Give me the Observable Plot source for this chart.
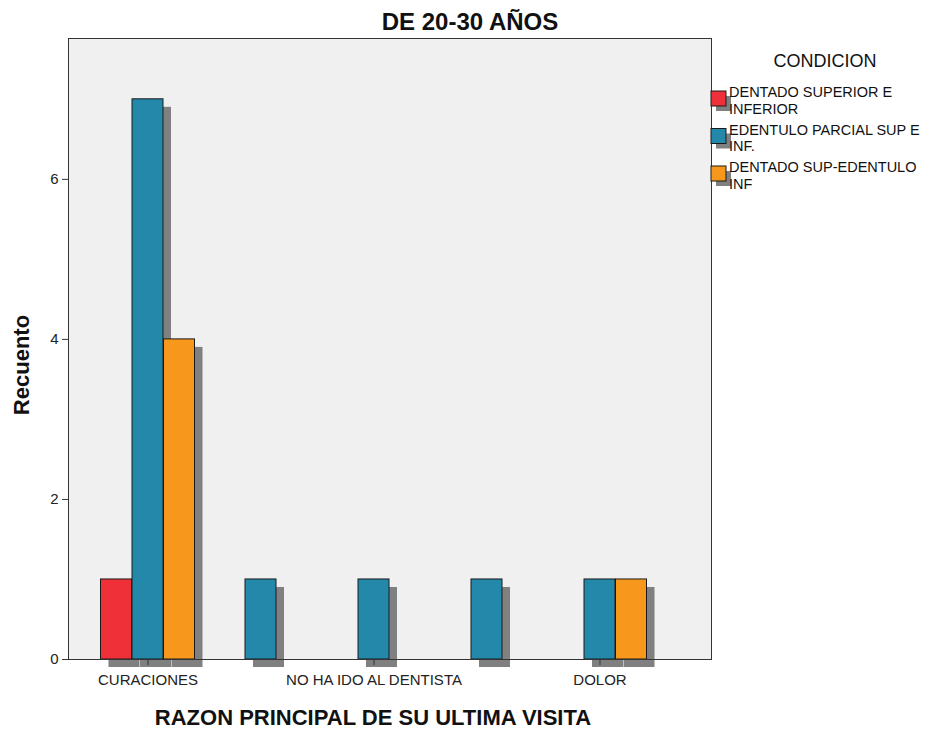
<!DOCTYPE html>
<html><head><meta charset="utf-8">
<script src="https://cdn.jsdelivr.net/npm/d3@7"></script>
<script src="https://cdn.jsdelivr.net/npm/@observablehq/plot@0.6"></script>
<style>body{margin:0;background:#fff;} #chart{width:938px;height:731px;}</style>
</head><body><div id="chart"></div>
<script>
// ---- data ----
const chartTitle = "DE 20-30 AÑOS";
const xTitle = "RAZON PRINCIPAL DE SU ULTIMA VISITA";
const yTitle = "Recuento";
const legendTitle = "CONDICION";
const categories = ["CURACIONES", "CATEGORIA 2", "NO HA IDO AL DENTISTA", "CATEGORIA 4", "DOLOR"];
const labeledCategories = ["CURACIONES", "NO HA IDO AL DENTISTA", "DOLOR"];
const seriesNames = ["DENTADO SUPERIOR E INFERIOR", "EDENTULO PARCIAL SUP E INF.", "DENTADO SUP-EDENTULO INF"];
const legendLines = [["DENTADO SUPERIOR E", "INFERIOR"], ["EDENTULO PARCIAL SUP E", "INF."], ["DENTADO SUP-EDENTULO", "INF"]];
const seriesColors = ["#ef3039", "#2388aa", "#f7981d"];
const dentadoSupInf = [1, 0, 0, 0, 0];
const edentuloParcial = [7, 1, 1, 1, 1];
const dentadoSupEdentInf = [4, 0, 0, 0, 1];
const yTicks = [0, 2, 4, 6];

const seriesValues = [dentadoSupInf, edentuloParcial, dentadoSupEdentInf];
const rows = [];
seriesValues.forEach((vals, k) => vals.forEach((v, i) => {
  if (v > 0) rows.push({k, series: seriesNames[k], cat: categories[i], value: v});
}));

// ---- layout ----
const W = 938, H = 731;
const mL = 68, mR = 227, mT = 38, mB = 72;
const xRange = [89.25, 656.75];
const band = (xRange[1] - xRange[0]) / categories.length;
const barW = 31.5;
const slot0 = (band - 3 * barW) / 2;
const font = "'Liberation Sans', Arial, sans-serif";

const shadowMarks = [0, 1, 2].map(k => Plot.barY(rows.filter(d => d.k === k), {
  x: "cat", y: "value", fill: "#808080", dx: 8, dy: 8,
  insetLeft: slot0 + barW * k, insetRight: band - slot0 - barW * (k + 1)
}));
const barMarks = [0, 1, 2].map(k => Plot.barY(rows.filter(d => d.k === k), {
  x: "cat", y: "value", fill: seriesColors[k], stroke: "#1a1a1a", strokeWidth: 1,
  insetLeft: slot0 + barW * k, insetRight: band - slot0 - barW * (k + 1)
}));

const svg = Plot.plot({
  width: W, height: H,
  marginLeft: mL, marginRight: mR, marginTop: mT, marginBottom: mB,
  style: {fontFamily: font, fontSize: "15px", color: "#222", background: "#fff"},
  x: {type: "band", domain: categories, range: xRange, padding: 0},
  y: {domain: [0, 7.76]},
  marks: [
    Plot.frame({fill: "#f0f0f0"}),
    ...shadowMarks,
    ...barMarks,
    Plot.frame({stroke: "#333", strokeWidth: 1}),
    Plot.axisY({ticks: yTicks, tickSize: 6, tickPadding: 4, fontSize: 15, label: null, stroke: "#333"}),
    Plot.axisX({ticks: labeledCategories, tickSize: 6, tickPadding: 9, fontSize: 15, label: null, stroke: "#333"})
  ]
});
document.getElementById("chart").appendChild(svg);

const s = d3.select(svg);
s.append("text").attr("x", 470).attr("y", 30).attr("text-anchor", "middle")
  .attr("font-family", font).attr("font-size", 24).attr("font-weight", "bold").attr("fill", "#111").text(chartTitle);
s.append("text").attr("x", (xRange[0] + xRange[1]) / 2).attr("y", 725).attr("text-anchor", "middle")
  .attr("font-family", font).attr("font-size", 22).attr("font-weight", "bold").attr("fill", "#111").text(xTitle);
s.append("text").attr("transform", "translate(29,365) rotate(-90)").attr("text-anchor", "middle")
  .attr("font-family", font).attr("font-size", 22).attr("font-weight", "bold").attr("fill", "#111").text(yTitle);

// legend
const lg = s.append("g").attr("font-family", font).attr("fill", "#111");
lg.append("text").attr("x", 825).attr("y", 67).attr("text-anchor", "middle").attr("font-size", 18).text(legendTitle);
legendLines.forEach((lines, k) => {
  const base = 97 + 37.5 * k;
  lg.append("rect").attr("x", 716).attr("y", base - 1).attr("width", 15).attr("height", 15).attr("fill", "#808080");
  lg.append("rect").attr("x", 711).attr("y", base - 6).attr("width", 15).attr("height", 15)
    .attr("fill", seriesColors[k]).attr("stroke", "#1a1a1a").attr("stroke-width", 1);
  lines.forEach((t, j) => {
    lg.append("text").attr("x", 729).attr("y", base + 16.5 * j).attr("text-anchor", "start")
      .attr("font-size", 14.5).text(t);
  });
});
</script>
</body></html>
